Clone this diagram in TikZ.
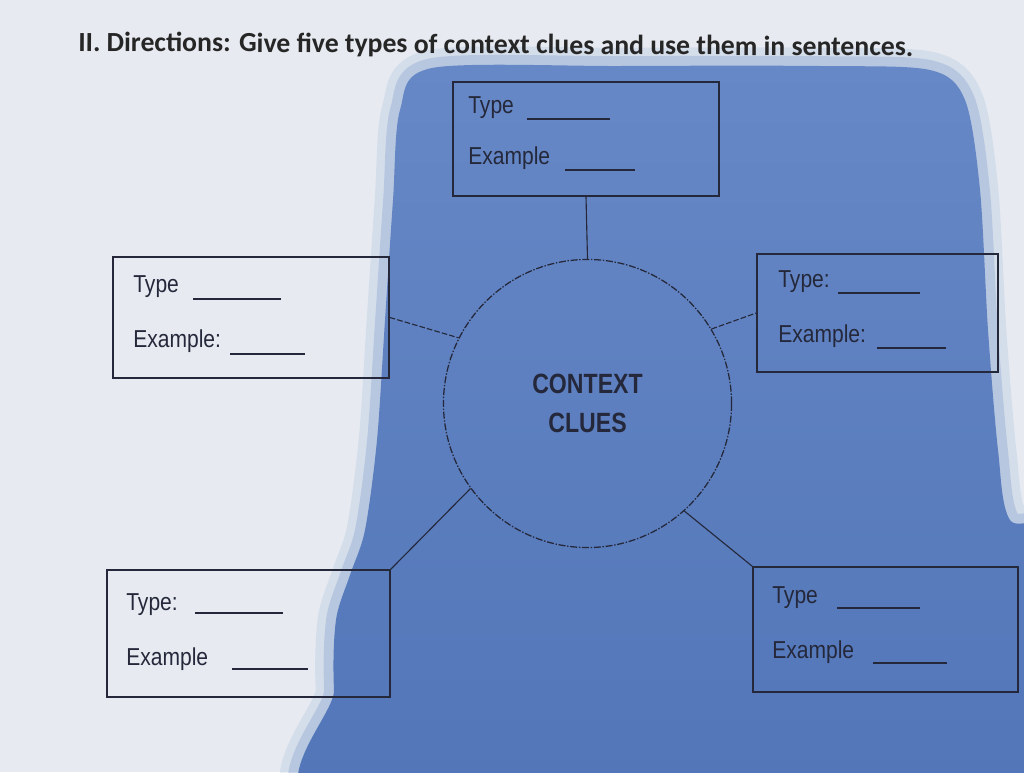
\documentclass[tikz,border=0pt]{standalone}
\usepackage{fontspec}
\setmainfont{Liberation Sans}
\newfontfamily\titlefont{Carlito}
\usepackage{graphicx}
\definecolor{paper}{HTML}{E7EBF1}
\definecolor{blobtop}{HTML}{6788C6}
\definecolor{blobbot}{HTML}{5074B7}
\definecolor{ink}{HTML}{24283A}
\newcommand{\narrow}[1]{\scalebox{0.86}[1]{#1}}
\tikzset{
	cluebox/.style 2 args={draw=ink,line width=1.1pt,minimum width=#1,minimum height=#2,inner sep=0pt},
	lbl/.style={anchor=base west,inner sep=0pt,text=ink,font=\fontsize{17.4}{20}\selectfont},
	blank/.style={draw=ink,line width=0.9pt},
	link/.style={draw=ink,line width=0.8pt},
	dlink/.style={link,dash pattern=on 4pt off 1.5pt},
	hub/.style={circle,draw=ink,line width=0.9pt,dash pattern=on 5pt off 1.2pt on 1pt off 1.2pt,
		minimum size=7.2cm,inner sep=0pt,align=center,text=ink,font=\bfseries\fontsize{19.8}{27.7}\selectfont}
}

\begin{document}
\begin{tikzpicture}[x=0.025cm,y=-0.025cm]
	\useasboundingbox (0,0) rectangle (1024,772);
	% paper and shadow
	\begin{scope}
		\clip (0,0) rectangle (1024,772);
		\fill[paper] (0,0) rectangle (1024,772);
		\path[save path=\blob] plot[smooth cycle] coordinates {(432,68) (620,66) (820,66) (930,70) (965,100) (980,190) (988,330) (998,450) (1010,520) (1060,545) (1060,820) (345,820) (334,690) (336,620) (350,575) (365,530) (377,440) (385,320) (393,200) (400,110)};
		\foreach \w/\o in {26/0.14,14/0.26}
			\draw[blobtop,line width=\w pt,opacity=\o,use path=\blob];
		\shade[top color=blobtop,bottom color=blobbot] plot[smooth cycle] coordinates {(432,68) (620,66) (820,66) (930,70) (965,100) (980,190) (988,330) (998,450) (1010,520) (1060,545) (1060,820) (345,820) (334,690) (336,620) (350,575) (365,530) (377,440) (385,320) (393,200) (400,110)};
	\end{scope}

	\node[anchor=base west,inner sep=0pt,rotate=-0.35,text=black!85,font=\titlefont\bfseries\fontsize{19.7}{22}\selectfont] (title) at (78,51)
		{II. Directions: Give five types of context clues and use them in sentences.};

	% centre
	\node[hub] (clues) at (587.5,403.5) {\scalebox{0.83}[1]{CONTEXT}\\\scalebox{0.83}[1]{CLUES}};

	% boxes
	\node[cluebox={6.65cm}{2.85cm}] (top) at (586,139) {};
	\node[lbl] (toptype) at (468,113) {\narrow{Type}};
	\node[lbl] (topex) at (468,164) {\narrow{Example}};
	\draw[blank] (527,119) -- (610,119);
	\draw[blank] (565,170) -- (635,170);

	\node[cluebox={6.9cm}{3.025cm}] (left) at (251,317.5) {};
	\node[lbl] (lefttype) at (133,292) {\narrow{Type}};
	\node[lbl] (leftex) at (133,347) {\narrow{Example:}};
	\draw[blank] (193,299) -- (281,299);
	\draw[blank] (230,354) -- (305,354);

	\node[cluebox={6.025cm}{2.95cm}] (right) at (877.5,313) {};
	\node[lbl] (righttype) at (778,287) {\narrow{Type:}};
	\node[lbl] (rightex) at (778,342) {\narrow{Example:}};
	\draw[blank] (838,293) -- (920,293);
	\draw[blank] (877,348) -- (946,348);

	\node[cluebox={7.075cm}{3.175cm}] (botleft) at (248.5,633.5) {};
	\node[lbl] (bltype) at (126,610) {\narrow{Type:}};
	\node[lbl] (blex) at (126,665) {\narrow{Example}};
	\draw[blank] (195,613) -- (283,613);
	\draw[blank] (232,669) -- (308,669);

	\node[cluebox={6.625cm}{3.125cm}] (botright) at (885.5,629.5) {};
	\node[lbl] (brtype) at (772,603) {\narrow{Type}};
	\node[lbl] (brex) at (772,658) {\narrow{Example}};
	\draw[blank] (837,608) -- (920,608);
	\draw[blank] (873,663) -- (947,663);

	% spokes
	\draw[link] (top.south) -- (clues.north);
	\draw[dlink] (left.east) -- (clues.153);
	\draw[dlink] (clues.31) -- (right.west);
	\draw[link] (clues.216) -- (botleft.north east);
	\draw[link] (clues.312) -- (botright.north west);
\end{tikzpicture}
\end{document}
